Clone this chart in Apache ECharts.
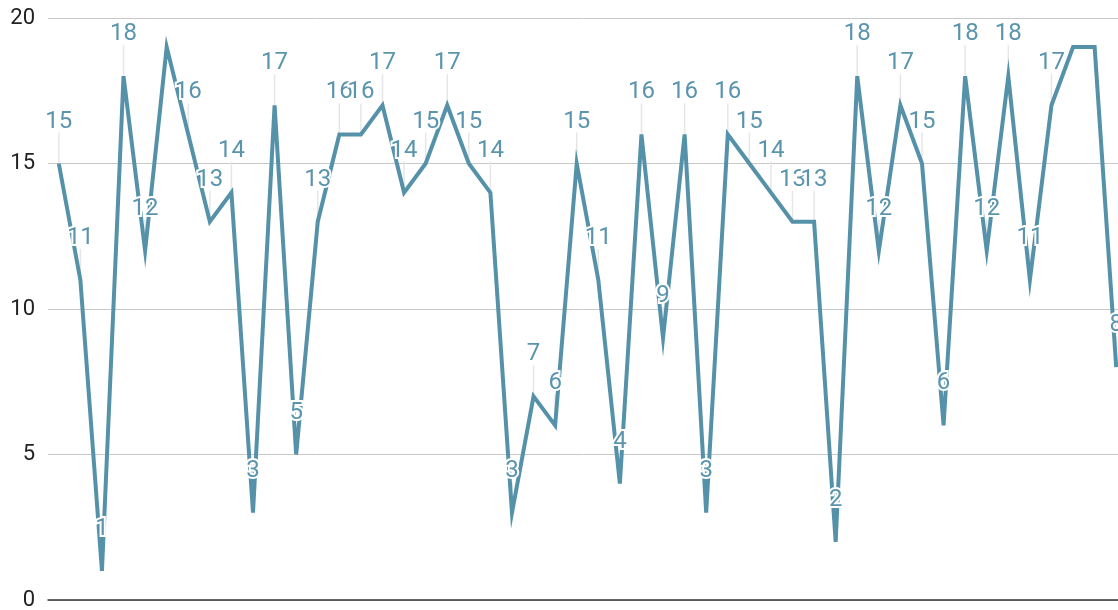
<!DOCTYPE html>
<html>
<head>
<meta charset="utf-8">
<script src="https://cdn.jsdelivr.net/npm/echarts@6/dist/echarts.min.js"></script>
<style>
html,body{margin:0;padding:0;background:#fff;}
#c{width:1118px;height:610px;}
</style>
</head>
<body>
<div id="c"></div>
<script>
const categories = Array.from({length: 50}, (_, i) => String(i + 1));
const values = [15, 11, 1, 18, 12, 19, 16, 13, 14, 3,
                17, 5, 13, 16, 16, 17, 14, 15, 17, 15,
                14, 3, 7, 6, 15, 11, 4, 16, 9, 16,
                3, 16, 15, 14, 13, 13, 2, 18, 12, 17,
                15, 6, 18, 12, 18, 11, 17, 19, 19, 8];
const hiddenLabels = [5, 47, 48];
const yTicks = [0, 5, 10, 15, 20];

const LINE_COLOR = '#5592aa';
const LABEL_COLOR = '#5b95ad';
const LABEL_RISE = 42;

const chart = echarts.init(document.getElementById('c'), null, {renderer: 'canvas'});
const pairs = values.map((v, i) => [i, v]);

function guideItem(params, api) {
  const i = api.value(0);
  if (hiddenLabels.includes(i)) return null;
  const p = api.coord([i, api.value(1)]);
  return {
    type: 'line',
    shape: {x1: p[0], y1: p[1], x2: p[0], y2: p[1] - LABEL_RISE + 11},
    style: {stroke: '#e6e6e6', lineWidth: 1.5}
  };
}
function textItem(params, api) {
  const i = api.value(0);
  if (hiddenLabels.includes(i)) return null;
  const v = api.value(1);
  const p = api.coord([i, v]);
  return {
    type: 'text',
    x: p[0], y: p[1] - LABEL_RISE,
    style: {
      text: String(v),
      fill: LABEL_COLOR,
      font: '24px Roboto',
      align: 'center',
      verticalAlign: 'middle',
      stroke: '#fff',
      lineWidth: 4
    }
  };
}

chart.setOption({
  animation: false,
  grid: {left: 48, width: 1079, top: 18, bottom: 10, containLabel: false, outerBoundsMode: 'none'},
  xAxis: {
    type: 'category',
    data: categories,
    boundaryGap: true,
    axisLine: {show: true, lineStyle: {color: '#333', width: 1.5}},
    axisTick: {show: false},
    axisLabel: {show: false},
    splitLine: {show: false}
  },
  yAxis: {
    type: 'value',
    min: yTicks[0],
    max: yTicks[yTicks.length - 1],
    interval: 5,
    axisLine: {show: false},
    axisTick: {show: false},
    axisLabel: {
      color: '#222', fontSize: 22, fontFamily: 'Roboto', margin: 13
    },
    splitLine: {lineStyle: {color: '#c8c8c8', width: 1}}
  },
  series: [
    {
      type: 'custom',
      data: pairs,
      z: 1,
      renderItem: guideItem
    },
    {
      type: 'line',
      data: values,
      showSymbol: false,
      z: 2,
      lineStyle: {color: LINE_COLOR, width: 4, join: 'miter', miterLimit: 10},
      itemStyle: {color: LINE_COLOR}
    },
    {
      type: 'custom',
      data: pairs,
      z: 3,
      renderItem: textItem
    }
  ]
});
</script>
</body>
</html>
